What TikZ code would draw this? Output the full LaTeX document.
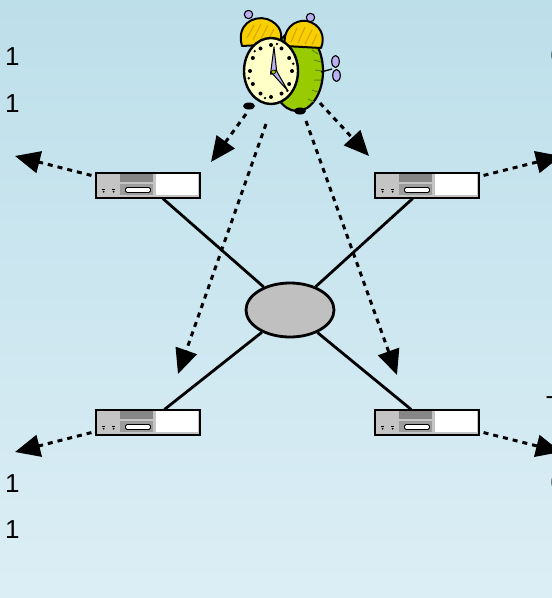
\documentclass[tikz,border=0pt]{standalone}
\usepackage{fontspec}
\setmainfont{Liberation Sans}
\usetikzlibrary{arrows.meta,shapes.geometric,calc}

\definecolor{bgtop}{HTML}{BDDFEA}
\definecolor{bgbot}{HTML}{DCEEF5}
\definecolor{srvlight}{HTML}{C4C4C4}
\definecolor{srvdark}{HTML}{868686}
\definecolor{srvmid}{HTML}{9C9C9C}
\definecolor{hubgrey}{HTML}{C0C0C0}
\definecolor{bellyellow}{HTML}{F7D000}
\definecolor{bellshade}{HTML}{E0A000}
\definecolor{bodygreen}{HTML}{99CC00}
\definecolor{bodydark}{HTML}{5E8A00}
\definecolor{facecream}{HTML}{FFFFC8}
\definecolor{lavender}{HTML}{B8B0F0}

\tikzset{
  srv/.style={rectangle, draw=black, line width=1.1pt, fill=srvlight,
    minimum width=104pt, minimum height=25pt, inner sep=0pt},
  hub/.style={ellipse, draw=black, line width=2.8pt, fill=hubgrey,
    minimum width=88pt, minimum height=54pt, inner sep=0pt},
  link/.style={line width=2.8pt},
  pulse/.style={line width=3pt, dash pattern=on 5pt off 5pt,
    -{Triangle[length=25pt,width=22pt]}},
  digit/.style={font=\fontsize{26}{30}\selectfont, inner sep=0pt, text=black},
  srvface/.pic={
    \fill[srvdark] (25,2) rectangle (58,10);
    \fill[srvmid] (25,11.5) rectangle (58,23);
    \draw[fill=white, line width=0.9pt, rounded corners=1.5pt] (30,15) rectangle (55,20);
    \fill[white] (61,2) rectangle (103,23);
    \draw[line width=0.8pt] (6.5,16.5) -- (10,16.5) (16.5,16.5) -- (20,16.5);
    \fill (8.2,19.2) circle (1pt) (18.2,19.2) circle (1pt);
  }
}

\begin{document}
\begin{tikzpicture}[x=1pt,y=-1pt]
\useasboundingbox (0,0) rectangle (552,598);
\clip (0,0) rectangle (552,598);
\shade[top color=bgtop, bottom color=bgbot] (0,0) rectangle (552,598);

% side labels
\node[digit, anchor=base west] (l1) at (5,65) {1};
\node[digit, anchor=base west] (l2) at (5,112) {1};
\node[digit, anchor=base west] (l3) at (5,492) {1};
\node[digit, anchor=base west] (l4) at (5,538) {1};
\node[digit, anchor=base west] (r1) at (550.5,64) {0};
\node[digit, anchor=north west] (r2) at (546,396) {T};
\node[digit, anchor=base west] (r3) at (550.5,491) {0};

% hub and servers
\node[hub] (hub) at (290,310) {};
\node[srv] (s1) at (148,185.5) {};
\node[srv] (s2) at (427,185.5) {};
\node[srv] (s3) at (148,422.5) {};
\node[srv] (s4) at (427,422.5) {};
\foreach \s in {s1,s2,s3,s4} \pic at (\s.north west) {srvface};

\draw[link] (hub) -- (s1);
\draw[link] (hub) -- (s2);
\draw[link] (hub) -- (s3);
\draw[link] (hub) -- (s4);

% alarm clock
\begin{scope}[line join=round]
  % body
  \filldraw[fill=bodygreen, line width=2.2pt] (297,71) ellipse (26pt and 40pt);
  \draw[bodydark, line width=1pt] (312,50) -- (318,54) (314,60) -- (321,62) (315,70) -- (322,71)
    (314,80) -- (321,80) (312,90) -- (318,92) (308,99) -- (314,102);
  % bells
  \filldraw[fill=bellyellow, line width=2pt] (242,46) .. controls (236,25) and (253,15) .. (267,19)
    .. controls (281,24) and (284,36) .. (279,44) -- cycle;
  \filldraw[fill=bellyellow, line width=2pt] (285,46) .. controls (282,30) and (294,19) .. (307,21)
    .. controls (320,24) and (326,36) .. (321,48) -- cycle;
  \draw[bellshade, line width=1.1pt] (247,38) -- (254,25) (253,40) -- (261,24) (260,41) -- (268,25)
    (267,42) -- (274,29) (291,42) -- (297,28) (298,43) -- (305,27) (305,44) -- (312,30) (312,45) -- (317,34);
  % bell knobs
  \filldraw[fill=lavender, line width=1.1pt] (248.5,14.5) circle (4.2pt);
  \filldraw[fill=lavender, line width=1.1pt] (310.5,17.5) circle (4.2pt);
  % winding key
  \draw[line width=1.3pt] (321,72) -- (332,69);
  \filldraw[fill=lavender, line width=1.1pt] (335.5,61.5) ellipse (3.8pt and 6pt);
  \filldraw[fill=lavender, line width=1.1pt] (336.5,75.5) ellipse (3.8pt and 6pt);
  % feet
  \fill (249,106) ellipse (6pt and 3.5pt);
  \fill (300,111) ellipse (6pt and 3.5pt);
  % face
  \filldraw[fill=facecream, line width=2.4pt] (271,71) ellipse (27pt and 33pt);
  \foreach \a in {0,30,...,330}
    \fill ($(271,71)+(\a:21pt and 26pt)$) circle (2pt);
  \foreach \a in {15,75,...,315}
    \fill ($(271,71)+(\a:23pt and 28pt)$) circle (1.3pt);
  % hands
  \filldraw[fill=lavender, line width=1pt] (270.5,74) -- (274,47) -- (277,74) -- cycle;
  \filldraw[fill=lavender, line width=1pt] (271,72) -- (288,91) -- (276,70) -- cycle;
  \filldraw[fill=bodygreen, line width=0.6pt] (273.5,72) circle (2pt);
\end{scope}

% pulses sent by the clock
\coordinate (k1) at (246,114);
\coordinate (k2) at (266,124);
\coordinate (k3) at (306,121);
\coordinate (k4) at (320,103);
\coordinate (t1) at (211,162);
\coordinate (t2) at (178,374);
\coordinate (t3) at (397,375);
\coordinate (t4) at (369,156);
\draw[pulse] (k1) -- (t1);
\draw[pulse] (k2) -- (t2);
\draw[pulse] (k3) -- (t3);
\draw[pulse] (k4) -- (t4);

% pulses passed on by the servers
\coordinate (o1) at (15,156);
\coordinate (o2) at (561,156);
\coordinate (o3) at (15,452);
\coordinate (o4) at (561,452);
\draw[pulse] ($(s1.north west)+(-4,3)$) -- (o1);
\draw[pulse] ($(s2.north east)+(4,3)$) -- (o2);
\draw[pulse] ($(s3.south west)+(-4,-3)$) -- (o3);
\draw[pulse] ($(s4.south east)+(4,-3)$) -- (o4);
\end{tikzpicture}
\end{document}
